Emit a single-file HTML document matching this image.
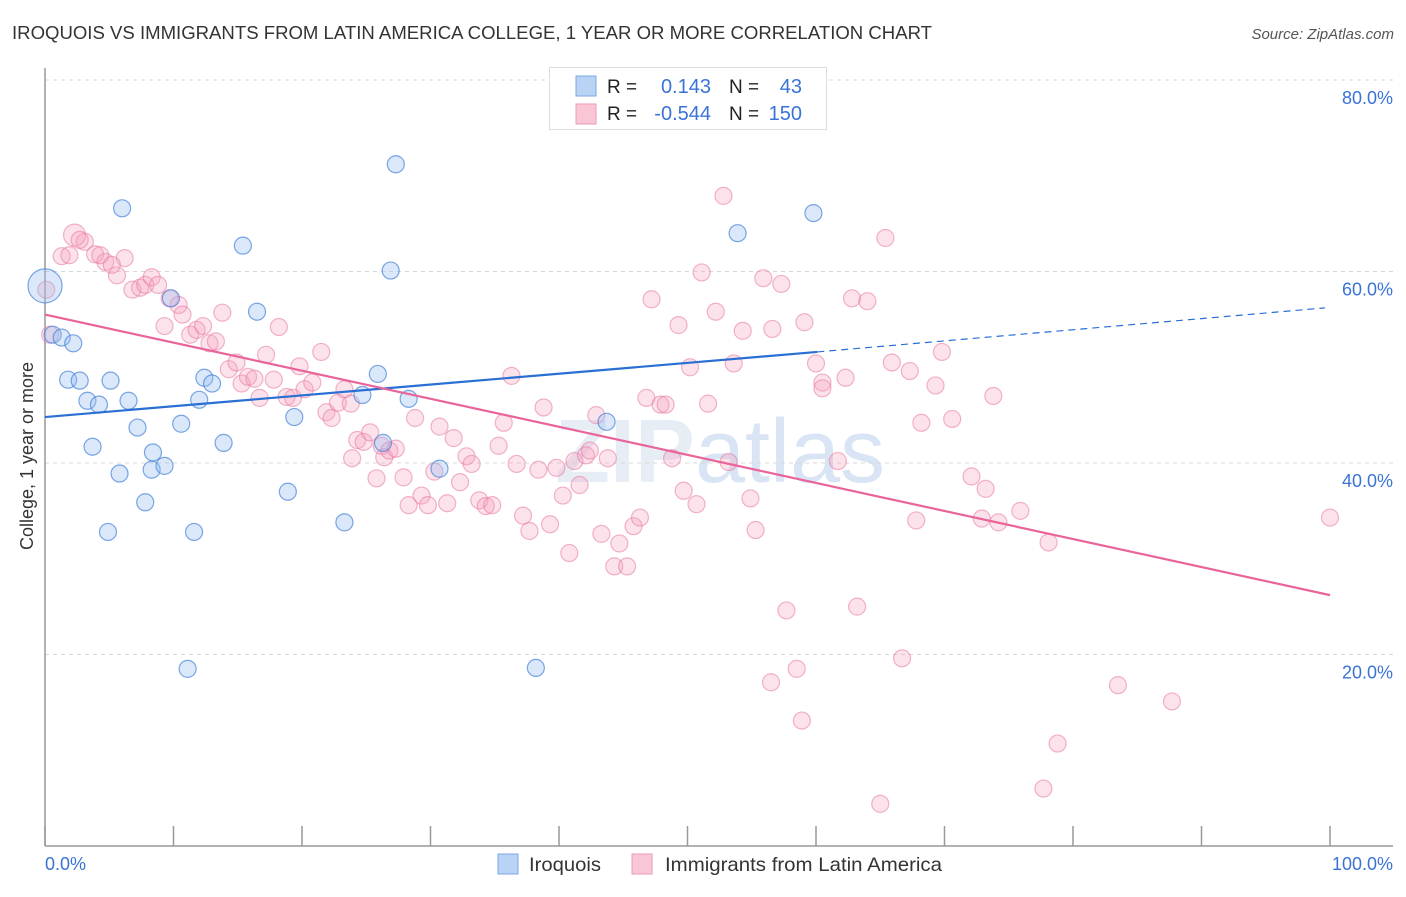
<!DOCTYPE html>
<html><head><meta charset="utf-8"><style>
body{margin:0;background:#fff;font-family:"Liberation Sans",sans-serif}
svg text{font-family:"Liberation Sans",sans-serif}
</style></head><body>
<svg id="chart" width="1406" height="892" viewBox="0 0 1406 892" xmlns="http://www.w3.org/2000/svg">
<text x="12" y="39" font-size="18" fill="#333" textLength="920" lengthAdjust="spacingAndGlyphs">IROQUOIS VS IMMIGRANTS FROM LATIN AMERICA COLLEGE, 1 YEAR OR MORE CORRELATION CHART</text>
<text x="1394" y="39" font-size="15" fill="#555" font-style="italic" text-anchor="end">Source: ZipAtlas.com</text>
<text x="720" y="482" font-size="90" fill="#dde6f1" text-anchor="middle" font-weight="bold" opacity="0.7">ZIP<tspan font-weight="normal" fill="#c9daf0">atlas</tspan></text>
<g id="grid"></g>
<g id="axes"></g>
<g id="pts"></g>
<g id="lines"></g>
<text transform="translate(33,456) rotate(-90)" font-size="18" fill="#333" text-anchor="middle">College, 1 year or more</text>
<text x="45" y="870" font-size="18" fill="#3a73d6">0.0%</text>
<text x="1393" y="870" font-size="18" fill="#3a73d6" text-anchor="end">100.0%</text>
<g>
<rect x="549.5" y="67.5" width="277" height="62" fill="#fff" stroke="#ddd"/>
<rect x="576" y="76" width="20" height="20" fill="#b9d3f4" stroke="#7aa7e6"/>
<rect x="576" y="104" width="20" height="20" fill="#f9c6d6" stroke="#ee9ab5"/>
<text x="607" y="93" font-size="19" fill="#222">R =</text>
<text x="711" y="93" font-size="20" fill="#3a73d6" text-anchor="end">0.143</text>
<text x="729" y="93" font-size="19" fill="#222">N =</text>
<text x="802" y="93" font-size="20" fill="#3a73d6" text-anchor="end">43</text>
<text x="607" y="120" font-size="19" fill="#222">R =</text>
<text x="711" y="120" font-size="20" fill="#3a73d6" text-anchor="end">-0.544</text>
<text x="729" y="120" font-size="19" fill="#222">N =</text>
<text x="802" y="120" font-size="20" fill="#3a73d6" text-anchor="end">150</text>
</g>
<g>
<rect x="498" y="854" width="20" height="20" fill="#b9d3f4" stroke="#7aa7e6"/>
<text x="529" y="871" font-size="19.5" fill="#333" textLength="72" lengthAdjust="spacingAndGlyphs">Iroquois</text>
<rect x="632" y="854" width="20" height="20" fill="#f9c6d6" stroke="#ee9ab5"/>
<text x="665" y="871" font-size="19.5" fill="#333" textLength="277" lengthAdjust="spacingAndGlyphs">Immigrants from Latin America</text>
</g>
</svg>
<script>
const yTicks=[20,40,60,80];
const yTickLabels=["20.0%","40.0%","60.0%","80.0%"];
const xTicks=[0,10,20,30,40,50,60,70,80,90,100];
const blueX=[0,0.6,1.3,2.2,1.8,2.7,5.1,3.3,4.2,6.5,3.7,7.2,5.8,8.4,8.3,9.3,7.8,4.9,11.6,6.0,15.4,10.6,12.0,12.4,13.0,13.9,16.5,9.8,19.4,18.9,23.3,11.1,27.3,26.9,25.9,24.7,28.3,26.3,30.7,43.7,38.2,53.9,59.8];
const blueY=[58.5,53.4,53.1,52.5,48.7,48.6,48.6,46.5,46.1,46.5,41.7,43.7,38.9,41.1,39.3,39.7,35.9,32.8,32.8,66.6,62.7,44.1,46.6,48.9,48.3,42.1,55.8,57.2,44.8,37.0,33.8,18.5,71.2,60.1,49.3,47.1,46.7,42.1,39.4,44.3,18.6,64.0,66.1];
const pinkX=[0.4,2.3,1.3,1.9,3.1,2.7,3.9,4.7,4.3,5.6,6.2,5.2,6.8,7.4,7.8,8.3,8.8,9.3,9.7,10.4,10.7,11.3,11.8,12.3,12.8,13.3,13.8,14.3,14.9,15.3,15.8,16.3,16.7,17.2,17.8,18.2,18.8,19.3,19.8,20.2,20.8,21.5,21.9,22.3,22.8,23.3,23.8,24.3,23.9,24.8,25.3,25.8,26.4,26.2,26.8,27.3,27.9,28.3,28.8,29.3,29.8,30.3,30.7,31.3,31.8,32.3,32.8,33.2,33.8,34.3,34.8,35.3,35.7,36.3,36.7,37.2,37.7,38.4,38.8,39.3,39.8,40.3,40.8,41.2,41.6,42.1,42.4,42.9,43.3,43.8,44.3,44.7,45.3,45.8,46.3,46.8,47.2,47.9,48.3,48.8,49.3,49.7,50.2,50.7,51.1,51.6,52.2,52.8,53.2,53.6,54.3,54.9,55.3,55.9,56.6,57.3,57.7,56.5,58.5,58.9,59.1,60.0,60.5,60.5,61.7,62.3,62.8,63.2,64.0,65.0,65.4,65.9,66.7,67.3,67.8,68.2,69.3,69.8,70.6,72.1,72.9,73.2,73.8,74.2,75.9,78.1,77.7,78.8,83.5,87.7,100,0.1];
const pinkY=[53.4,63.8,61.6,61.7,63.1,63.3,61.8,61.0,61.7,59.6,61.4,60.7,58.1,58.3,58.6,59.4,58.6,54.3,57.2,56.5,55.5,53.4,53.9,54.3,52.5,52.7,55.7,49.8,50.5,48.3,49.0,48.8,46.8,51.3,48.7,54.2,46.9,46.8,50.1,47.7,48.4,51.6,45.3,44.7,46.3,47.7,46.2,42.4,40.5,42.2,43.2,38.4,40.6,41.8,41.3,41.5,38.5,35.6,44.7,36.6,35.6,39.1,43.8,35.8,42.6,38.0,40.7,39.9,36.1,35.5,35.6,41.8,44.2,49.1,39.9,34.5,32.9,39.3,45.8,33.6,39.5,36.6,30.6,40.2,37.7,40.8,41.3,45.0,32.6,40.5,29.2,31.6,29.2,33.4,34.3,46.8,57.1,46.1,46.1,40.5,54.4,37.1,50.0,35.7,59.9,46.2,55.8,67.9,40.1,50.4,53.8,36.3,33.0,59.3,54.0,58.7,24.6,17.1,18.5,13.1,54.7,50.4,48.4,47.8,40.2,48.9,57.2,25.0,56.9,4.4,63.5,50.5,19.6,49.6,34.0,44.2,48.1,51.6,44.6,38.6,34.2,37.3,47.0,33.8,35.0,31.7,6.0,10.7,16.8,15.1,34.3,58.1];
const blueTrend=[44.8,51.6,56.2];
const blueTrendX=[0,60.1,99.6];
const pinkTrend=[55.5,26.2];
const pinkTrendX=[0,100];
const NS="http://www.w3.org/2000/svg";
const sx=v=>45+v*12.85, sy=v=>846-v*9.575;
function mk(tag,attrs,parent){const e=document.createElementNS(NS,tag);for(const k in attrs)e.setAttribute(k,attrs[k]);parent.appendChild(e);return e;}
const grid=document.getElementById('grid'),axes=document.getElementById('axes'),pts=document.getElementById('pts'),lines=document.getElementById('lines');
yTicks.forEach((t,i)=>{
 const l=mk('line',{x1:45,x2:1393,y1:sy(t),y2:sy(t),stroke:'#d8d8d8','stroke-dasharray':'4,4'},grid);
 
 
 const tx=mk('text',{x:1393,y:sy(t)+24,'font-size':18,fill:'#3a73d6','text-anchor':'end'},grid);
 tx.textContent=yTickLabels[i];
 
 
});
const ya=mk('line',{x1:45,x2:45,y1:68,y2:846,stroke:'#999','stroke-width':1.5},axes);


const xa=mk('line',{x1:45,x2:1393,y1:846,y2:846,stroke:'#999','stroke-width':1.5},axes);


xTicks.forEach(t=>{
 const l=mk('line',{x1:sx(t),x2:sx(t),y1:826,y2:846,stroke:'#999','stroke-width':1.5},axes);
 
 
});
pinkX.forEach((x,i)=>{
 const big=(i===1);
 const c=mk('circle',{cx:sx(x),cy:sy(pinkY[i]),r:big?11:8.5,fill:'rgba(244,160,188,0.3)',stroke:'rgba(232,120,160,0.55)','stroke-width':1.2},pts);
 
 
});
blueX.forEach((x,i)=>{
 const big=(i===0);
 const c=mk('circle',{cx:sx(x),cy:sy(blueY[i]),r:big?17:8.5,fill:'rgba(150,190,240,0.35)',stroke:'rgba(70,130,215,0.7)','stroke-width':1.2},pts);
 
 
});
const bl=mk('line',{x1:sx(blueTrendX[0]),y1:sy(blueTrend[0]),x2:sx(blueTrendX[1]),y2:sy(blueTrend[1]),stroke:'#2a6fd4','stroke-width':2.2},lines);


const bd=mk('line',{x1:sx(blueTrendX[1]),y1:sy(blueTrend[1]),x2:sx(blueTrendX[2]),y2:sy(blueTrend[2]),stroke:'#2a6fd4','stroke-width':1.2,'stroke-dasharray':'7,5'},lines);


const pl=mk('line',{x1:sx(pinkTrendX[0]),y1:sy(pinkTrend[0]),x2:sx(pinkTrendX[1]),y2:sy(pinkTrend[1]),stroke:'#e8649a','stroke-width':2.2},lines);


</script>
</body></html>
